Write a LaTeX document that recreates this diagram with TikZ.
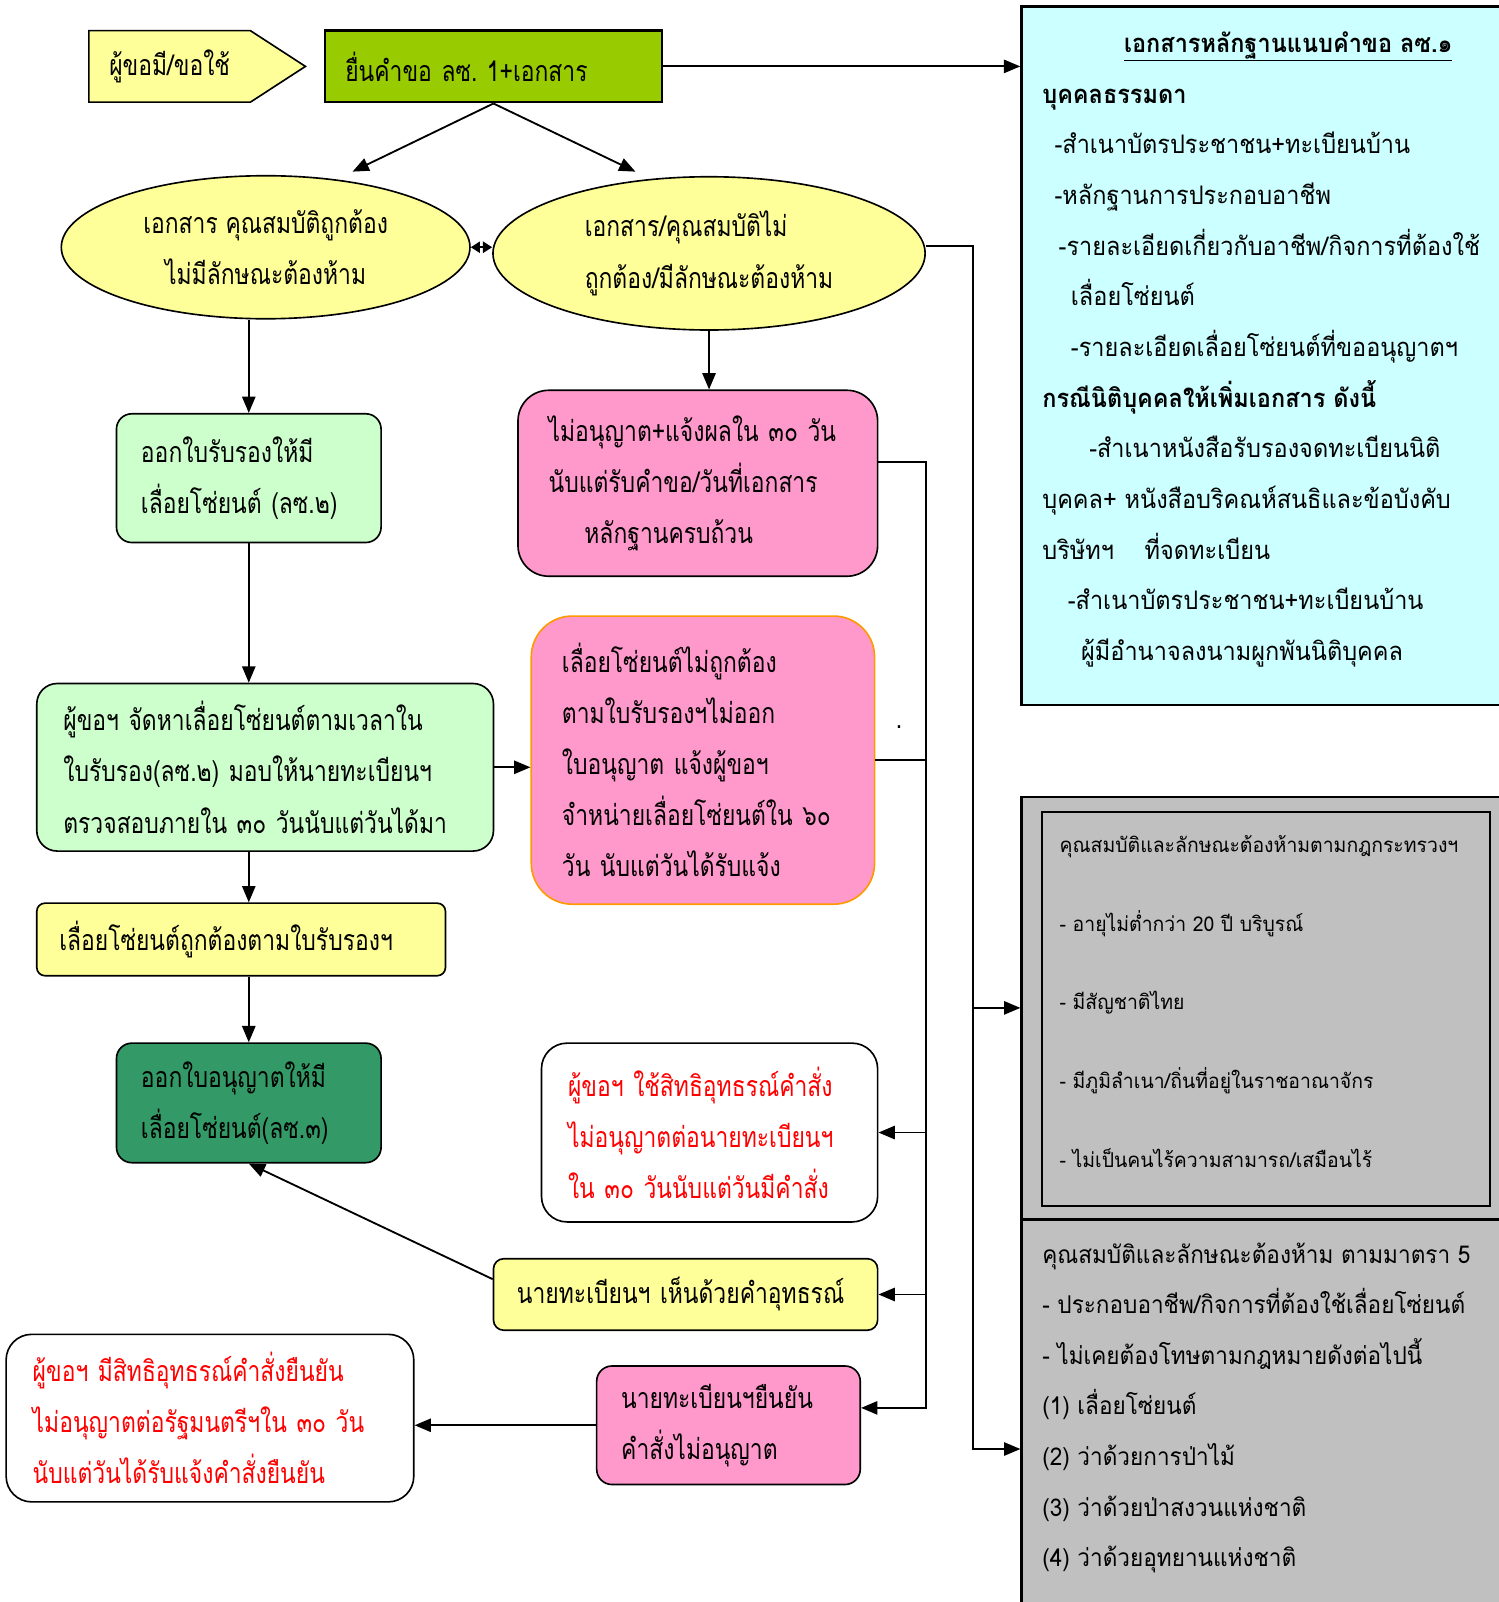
\documentclass[tikz,border=0pt]{standalone}
\usepackage{fontspec}
\newfontfamily\thaifont[Script=Thai,FakeStretch=0.92]{Loma}
\newfontfamily\thaisans[Script=Thai,FakeStretch=0.95]{Loma}
\newfontfamily\thainarrow[Script=Thai,FakeStretch=0.80]{Loma}
\usetikzlibrary{shapes.geometric,shapes.symbols,arrows.meta}
\definecolor{paleyellow}{HTML}{FFFF99}
\definecolor{leafgreen}{HTML}{99CC00}
\definecolor{mintgreen}{HTML}{CCFFCC}
\definecolor{rosepink}{HTML}{FF99CC}
\definecolor{deepgreen}{HTML}{339966}
\definecolor{palecyan}{HTML}{CCFFFF}
\definecolor{silvergray}{HTML}{C0C0C0}
\definecolor{amber}{HTML}{FF9900}

\begin{document}
\begin{tikzpicture}[x=1pt, y=-1pt,
    every node/.style={font=\thainarrow\fontsize{28}{50}\selectfont},
    box/.style={draw, line width=1.6pt, align=left, inner xsep=25pt, inner ysep=0pt},
    oval/.style={draw, ellipse, line width=1.6pt, fill=paleyellow, inner sep=0pt},
    panel/.style={draw, line width=2.5pt, fill=silvergray, minimum width=475pt},
    listtext/.style={anchor=west, inner sep=0pt, align=left},
    link/.style={line width=1.8pt},
    arr/.style={link, -{Triangle[length=16pt,width=13pt]}}]
  \useasboundingbox (0,0) rectangle (1467,1568);

  \node[signal, signal to=east, signal pointer angle=66, draw, line width=1.6pt, fill=paleyellow,
    minimum width=212pt, minimum height=70pt, inner xsep=20pt] (applicant) at (166,65) {ผู้ขอมี/ขอใช้};
  \node[box, line width=2.6pt, fill=leafgreen, inner xsep=20pt, text width=290pt, minimum height=70pt] (submit) at (483,65) {ยื่นคำขอ~ลซ.\ 1+เอกสาร};

  \node[draw, line width=2.8pt, fill=palecyan, minimum width=475pt, minimum height=684pt] (docs) at (1237.5,348) {};
  \node[listtext, font=\thaifont\fontsize{25}{49.6}\selectfont] (docstext) at (1020,342) {%
    \hspace*{80pt}\textbf{\underline{เอกสารหลักฐานแนบคำขอ ลซ.๑}}\\
    \textbf{บุคคลธรรมดา}\\
    \hspace*{12pt}-สำเนาบัตรประชาชน+ทะเบียนบ้าน\\
    \hspace*{12pt}-หลักฐานการประกอบอาชีพ\\
    \hspace*{16pt}-รายละเอียดเกี่ยวกับอาชีพ/กิจการที่ต้องใช้\\
    \hspace*{28pt}เลื่อยโซ่ยนต์\\
    \hspace*{28pt}-รายละเอียดเลื่อยโซ่ยนต์ที่ขออนุญาตฯ\\
    \textbf{กรณีนิติบุคคลให้เพิ่มเอกสาร ดังนี้}\\
    \hspace*{46pt}-สำเนาหนังสือรับรองจดทะเบียนนิติ\\
    บุคคล+ หนังสือบริคณห์สนธิและข้อบังคับ\\
    บริษัทฯ\hspace*{30pt}ที่จดทะเบียน\\
    \hspace*{25pt}-สำเนาบัตรประชาชน+ทะเบียนบ้าน\\
    \hspace*{38pt}ผู้มีอำนาจลงนามผูกพันนิติบุคคล};

  \node[oval, minimum width=400pt, minimum height=140pt, align=center] (okdoc) at (260,242) {เอกสาร คุณสมบัติถูกต้อง\\ไม่มีลักษณะต้องห้าม};
  \node[oval, minimum width=423pt, minimum height=150pt, align=left] (baddoc) at (694,248) {เอกสาร/คุณสมบัติไม่\\ถูกต้อง/มีลักษณะต้องห้าม};

  \node[box, rounded corners=15pt, fill=mintgreen, inner xsep=24pt, text width=211pt, minimum height=126pt] (cert) at (243.5,468) {ออกใบรับรองให้มี\\เลื่อยโซ่ยนต์~(ลซ.๒)};
  \node[box, rounded corners=30pt, fill=rosepink, inner xsep=30pt, text width=292pt, minimum height=182pt] (refuse) at (683,473) {ไม่อนุญาต+แจ้งผลใน~๓๐~วัน\\นับแต่รับคำขอ/วันที่เอกสาร\\\hspace*{35pt}หลักฐานครบถ้วน};
  \node[box, rounded corners=20pt, fill=mintgreen, inner xsep=26pt, text width=395pt, minimum height=164pt] (supply) at (259.5,751) {ผู้ขอฯ~จัดหาเลื่อยโซ่ยนต์ตามเวลาใน\\ใบรับรอง(ลซ.๒)~มอบให้นายทะเบียนฯ\\ตรวจสอบภายใน~๓๐~วันนับแต่วันได้มา};
  \node[box, rounded corners=40pt, draw=amber, fill=rosepink, inner xsep=30pt, text width=276pt, minimum height=282pt] (wrongsaw) at (688,744) {เลื่อยโซ่ยนต์ไม่ถูกต้อง\\ตามใบรับรองฯไม่ออก\\ใบอนุญาต~แจ้งผู้ขอฯ\\จำหน่ายเลื่อยโซ่ยนต์ใน~๖๐\\วัน~นับแต่วันได้รับแจ้ง};
  \node[inner sep=0pt] (dot) at (880,712) {.};
  \node[box, rounded corners=8pt, fill=paleyellow, inner xsep=22pt, text width=356pt, minimum height=71pt] (sawok) at (236,919.5) {เลื่อยโซ่ยนต์ถูกต้องตามใบรับรองฯ};
  \node[box, rounded corners=15pt, fill=deepgreen, inner xsep=24pt, text width=211pt, minimum height=117pt] (licence) at (243.5,1079.5) {ออกใบอนุญาตให้มี\\เลื่อยโซ่ยนต์(ลซ.๓)};
  \node[box, rounded corners=25pt, fill=white, text=red, inner xsep=26pt, text width=277pt, minimum height=175pt] (appeal) at (694.5,1108.5) {ผู้ขอฯ~ใช้สิทธิอุทธรณ์คำสั่ง\\ไม่อนุญาตต่อนายทะเบียนฯ\\ใน~๓๐~วันนับแต่วันมีคำสั่ง};
  \node[box, rounded corners=10pt, fill=paleyellow, inner xsep=23pt, text width=330pt, minimum height=70pt] (agree) at (671,1267) {นายทะเบียนฯ~เห็นด้วยคำอุทธรณ์};
  \node[box, rounded corners=15pt, fill=rosepink, inner xsep=24pt, text width=210pt, minimum height=116pt] (confirm) at (713,1395) {นายทะเบียนฯยืนยัน\\คำสั่งไม่อนุญาต};
  \node[box, rounded corners=25pt, fill=white, text=red, inner xsep=26pt, text width=347pt, minimum height=164pt] (minister) at (205.5,1388) {ผู้ขอฯ~มีสิทธิอุทธรณ์คำสั่งยืนยัน\\ไม่อนุญาตต่อรัฐมนตรีฯใน~๓๐~วัน\\นับแต่วันได้รับแจ้งคำสั่งยืนยัน};

  \node[panel, minimum height=413pt] (qualrule) at (1237.5,986.5) {};
  \node[draw, line width=2pt, minimum width=438pt, minimum height=385pt] (qualbox) at (1239,987.5) {};
  \node[listtext, font=\thaisans\fontsize{20}{77}\selectfont] (qualtext) at (1037,980) {%
    คุณสมบัติและลักษณะต้องห้ามตามกฎกระทรวงฯ\\
    - อายุไม่ต่ำกว่า 20 ปี บริบูรณ์\\
    - มีสัญชาติไทย\\
    - มีภูมิลำเนา/ถิ่นที่อยู่ในราชอาณาจักร\\
    - ไม่เป็นคนไร้ความสามารถ/เสมือนไร้};
  \node[panel, minimum height=390pt, anchor=north] (qualact) at (1237.5,1193) {};
  \node[listtext, font=\thaifont\fontsize{24}{49.5}\selectfont] (acttext) at (1020,1378) {%
    คุณสมบัติและลักษณะต้องห้าม ตามมาตรา 5\\
    - ประกอบอาชีพ/กิจการที่ต้องใช้เลื่อยโซ่ยนต์\\
    - ไม่เคยต้องโทษตามกฎหมายดังต่อไปนี้\\
    (1) เลื่อยโซ่ยนต์\\
    (2) ว่าด้วยการป่าไม้\\
    (3) ว่าด้วยป่าสงวนแห่งชาติ\\
    (4) ว่าด้วยอุทยานแห่งชาติ};

  \coordinate (railL) at (906,0);
  \coordinate (railR) at (952,0);
  \coordinate (tipL) at (345,168);
  \coordinate (tipR) at (622,168);

  \draw[arr] (submit.east) -- (submit.east -| docs.west);
  \draw[arr] (submit.south) -- (tipL);
  \draw[arr] (submit.south) -- (tipR);
  \draw[link, {Triangle[length=9pt,width=11pt]}-{Triangle[length=9pt,width=11pt]}] (okdoc.east) -- (okdoc.east -| baddoc.west);
  \draw[arr] (okdoc.south -| cert.north) -- (cert.north);
  \draw[arr] (baddoc.south) -- (baddoc.south |- refuse.north);
  \draw[arr] (cert.south) -- (cert.south |- supply.north);
  \draw[arr] (supply.east) -- (supply.east -| wrongsaw.west);
  \draw[arr] (cert.south |- supply.south) -- (cert.south |- sawok.north);
  \draw[arr] (cert.south |- sawok.south) -- (cert.south |- licence.north);
  \draw[link] (wrongsaw.east) -- (wrongsaw.east -| railL);
  \draw[arr] ([yshift=21pt]refuse.east) -| ([yshift=17pt]railL |- confirm.east) -- ([yshift=17pt]confirm.east);
  \draw[arr] (appeal.east -| railL) -- (appeal.east);
  \draw[arr] (agree.east -| railL) -- (agree.east);
  \draw[arr] ([yshift=15pt]agree.west) -- (licence.south);
  \draw[arr] (confirm.west) -- (confirm.west -| minister.east);
  \draw[arr] ([yshift=7pt]baddoc.east) -| ([yshift=-29pt]railR |- qualact.west) -- ([yshift=-29pt]qualact.west);
  \draw[arr] (railR |- qualrule.west) -- (qualrule.west);
\end{tikzpicture}
\end{document}
